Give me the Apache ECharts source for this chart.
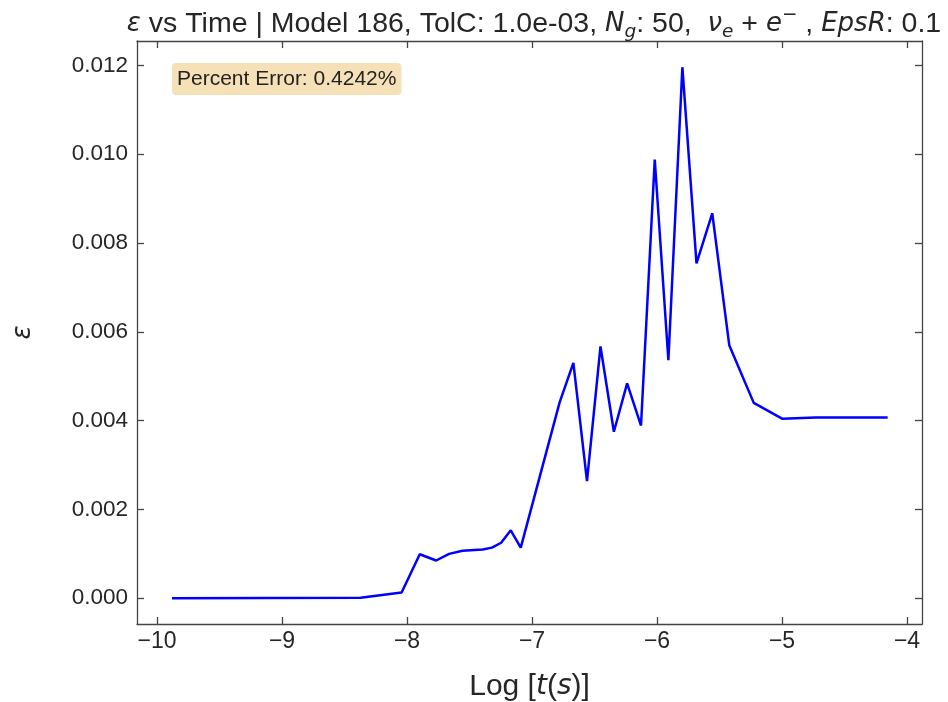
<!DOCTYPE html>
<html>
<head>
<meta charset="utf-8">
<script src="https://cdn.jsdelivr.net/npm/echarts@6/dist/echarts.min.js"></script>
<style>
  html, body { margin: 0; padding: 0; background: #fff; }
  #chart { width: 948px; height: 702px; }
</style>
</head>
<body>
<div id="chart"></div>
<script>
// log10 of time (s)
const logTime = [
  -9.88, -8.372, -8.043, -7.898, -7.767, -7.663, -7.556, -7.395, -7.320, -7.247,
  -7.170, -7.090, -6.779, -6.669, -6.560, -6.452, -6.345, -6.239, -6.128, -6.018,
  -5.909, -5.797, -5.684, -5.558, -5.422, -5.226, -4.996, -4.731, -4.155
];
// epsilon at each time
const epsilon = [
  0.00000, 0.00001, 0.00013, 0.00099, 0.00085, 0.00100, 0.00107, 0.00110, 0.00114, 0.00125,
  0.00153, 0.00114, 0.00441, 0.00530, 0.00264, 0.00567, 0.00375, 0.00484, 0.00389, 0.00988,
  0.00536, 0.01196, 0.00754, 0.00867, 0.00570, 0.00440, 0.00404, 0.00407, 0.00407
];
const xTicks = [-10, -9, -8, -7, -6, -5, -4];
const yTicks = [0, 0.002, 0.004, 0.006, 0.008, 0.010, 0.012];
const percentError = '0.4242%';

const points = logTime.map((t, i) => [t, epsilon[i]]);

const axisColor = '#444';
const labelColor = '#262626';
const sans = '"Liberation Sans", Arial, sans-serif';
const mathFont = '"DejaVu Sans", sans-serif';

const fmtX = v => (v < 0 ? '\u2212' : '') + Math.abs(Math.round(v));
const fmtY = v => v.toFixed(3);

const grid = { left: 137, right: 26, top: 41, bottom: 78, outerBoundsMode: 'none', containLabel: false };

const xBase = {
  type: 'value', min: -10.16, max: -3.88,
  axisLine: { show: true, onZero: false, lineStyle: { color: axisColor, width: 1.3 } },
  axisTick: { show: true, inside: true, length: 7, customValues: xTicks, lineStyle: { color: axisColor, width: 1.3 } },
  splitLine: { show: false }
};
const yBase = {
  type: 'value', min: -0.00058, max: 0.01255,
  axisLine: { show: true, onZero: false, lineStyle: { color: axisColor, width: 1.3 } },
  axisTick: { show: true, inside: true, length: 7, customValues: yTicks, lineStyle: { color: axisColor, width: 1.3 } },
  splitLine: { show: false }
};

const chart = echarts.init(document.getElementById('chart'), null, { renderer: 'canvas' });
chart.setOption({
  animation: false,
  backgroundColor: '#fff',
  title: [
    {
      left: 529, top: 1, textAlign: 'center',
      text: '{i|ε}{r| vs Time | Model 186, TolC: 1.0e-03, }{i|N}{sub|g}{r|: 50,  }{i|ν}{sub|e}{r| + }{i|e}{sup|−}{r| , }{i|EpsR}{r|: 0.1}',
      textStyle: {
        fontWeight: 'normal',
        rich: {
          r: { fontFamily: sans, fontSize: 28.5, fontWeight: 'normal', color: labelColor, lineHeight: 36 },
          i: { fontFamily: mathFont, fontStyle: 'italic', fontWeight: 'normal', fontSize: 26, color: labelColor, lineHeight: 36 },
          sub: { fontFamily: mathFont, fontStyle: 'italic', fontWeight: 'normal', fontSize: 18.5, color: labelColor, lineHeight: 20, verticalAlign: 'bottom' },
          sup: { fontFamily: mathFont, fontWeight: 'normal', fontSize: 18.5, color: labelColor, lineHeight: 20, verticalAlign: 'top' }
        }
      }
    },
    {
      left: 172, top: 63,
      text: 'Percent Error: ' + percentError,
      backgroundColor: 'rgba(245,222,179,0.95)',
      borderRadius: 4,
      padding: [6, 5, 5, 5],
      textStyle: { fontFamily: sans, fontSize: 21, fontWeight: 'normal', color: '#222' }
    }
  ],
  grid: grid,
  xAxis: [
    Object.assign({}, xBase, {
      position: 'bottom',
      name: '{r|Log }{r|[}{i|t}{r|(}{i|s}{r|)]}',
      nameLocation: 'middle', nameGap: 48,
      nameTextStyle: {
        rich: {
          r: { fontFamily: sans, fontSize: 30, color: labelColor },
          i: { fontFamily: mathFont, fontStyle: 'italic', fontSize: 28, color: labelColor }
        }
      },
      axisLabel: { show: true, customValues: xTicks, formatter: fmtX, margin: 6, fontFamily: sans, fontSize: 23, color: labelColor }
    }),
    Object.assign({}, xBase, { position: 'top', axisLabel: { show: false } })
  ],
  yAxis: [
    Object.assign({}, yBase, {
      position: 'left',
      name: 'ε', nameLocation: 'middle', nameGap: 101, nameRotate: 90,
      nameTextStyle: { fontFamily: mathFont, fontStyle: 'italic', fontSize: 26, color: labelColor },
      axisLabel: { show: true, customValues: yTicks, formatter: fmtY, margin: 9, fontFamily: sans, fontSize: 22.5, color: labelColor }
    }),
    Object.assign({}, yBase, { position: 'right', axisLabel: { show: false } })
  ],
  series: [{
    type: 'line',
    data: points,
    showSymbol: false,
    symbol: 'none',
    lineStyle: { color: '#0000ff', width: 2.5 },
    z: 3
  }]
});
</script>
</body>
</html>
